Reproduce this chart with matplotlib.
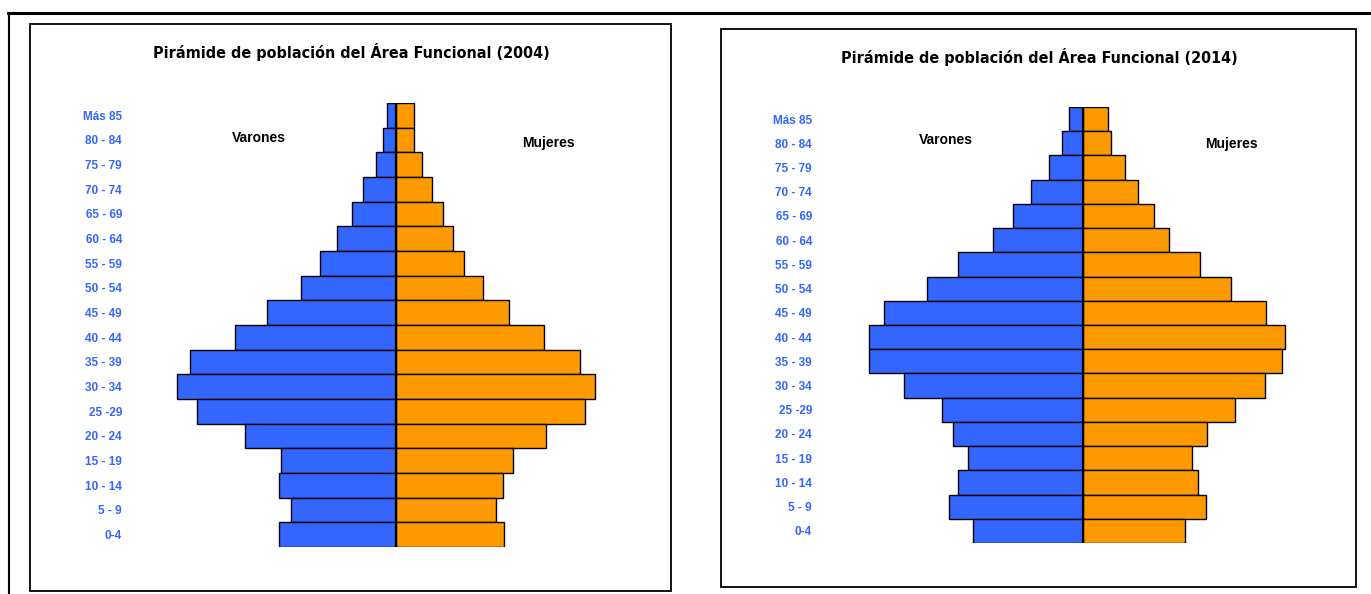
import matplotlib.pyplot as plt
from matplotlib.patches import Rectangle
from matplotlib.lines import Line2D

# age groups, oldest first (top of the pyramid)
age_groups = ['Más 85', '80 - 84', '75 - 79', '70 - 74', '65 - 69', '60 - 64',
              '55 - 59', '50 - 54', '45 - 49', '40 - 44', '35 - 39', '30 - 34',
              '25 -29', '20 - 24', '15 - 19', '10 - 14', '5 - 9', '0-4']

# values (relative units)
varones_2004 = [9, 13, 20, 33, 44, 59, 76, 95, 129, 161, 206, 219, 199, 151, 115, 117, 105, 117]
mujeres_2004 = [18, 18, 26, 36, 47, 57, 68, 87, 113, 148, 184, 199, 189, 150, 117, 107, 100, 108]

varones_2014 = [14, 21, 34, 52, 70, 90, 125, 156, 199, 214, 214, 179, 141, 130, 115, 125, 134, 110]
mujeres_2014 = [25, 28, 42, 55, 71, 86, 117, 148, 183, 202, 199, 182, 152, 124, 109, 115, 123, 102]

BLUE = '#3366FF'
ORANGE = '#FF9900'
W, H = 1371, 594

fig = plt.figure(figsize=(W / 100, H / 100), dpi=100)
fig.patch.set_facecolor('white')


def px_box(x0, y0, x1, y1):
    # pixel box (top-left origin) -> figure fraction [left, bottom, width, height]
    return [x0 / W, 1 - y1 / H, (x1 - x0) / W, (y1 - y0) / H]


def pyramid(axbox, xlim, men, women, title, title_xy, var_xy, muj_xy):
    ax = fig.add_axes(axbox)
    y = list(range(len(age_groups)))
    ax.barh(y, [-m for m in men], height=1.0, color=BLUE, edgecolor='black', linewidth=1.0)
    ax.barh(y, women, height=1.0, color=ORANGE, edgecolor='black', linewidth=1.0)
    ax.axvline(0, color='black', linewidth=1.6)
    ax.set_ylim(len(age_groups) - 0.5, -0.5)
    ax.set_xlim(*xlim)
    ax.set_yticks(y)
    ax.set_yticklabels(age_groups, color=BLUE, fontsize=8.5, fontweight='bold',
                       family=['Liberation Sans', 'DejaVu Sans'])
    ax.tick_params(axis='y', length=0, pad=13)
    ax.set_xticks([])
    for s in ax.spines.values():
        s.set_visible(False)

    fig.text(title_xy[0] / W, 1 - title_xy[1] / H, title, ha='center', va='center',
             fontsize=11.5, fontweight='bold', fontstretch='condensed',
             family=['DejaVu Sans'])
    fig.text(var_xy[0] / W, 1 - var_xy[1] / H, 'Varones', ha='center', va='center',
             fontsize=10, fontweight='bold', family=['Liberation Sans', 'DejaVu Sans'])
    fig.text(muj_xy[0] / W, 1 - muj_xy[1] / H, 'Mujeres', ha='center', va='center',
             fontsize=10, fontweight='bold', family=['Liberation Sans', 'DejaVu Sans'])


# panel frames
for (x0, y0, x1, y1) in [(30, 24, 671, 591), (721, 29, 1356, 587)]:
    fig.add_artist(Rectangle((x0 / W, 1 - y1 / H), (x1 - x0) / W, (y1 - y0) / H,
                             transform=fig.transFigure, fill=False,
                             edgecolor='black', linewidth=1.3))

# outer page lines
fig.add_artist(Line2D([8 / W, 1], [1 - 13 / H, 1 - 13 / H], transform=fig.transFigure,
                      color='black', linewidth=2.2))
fig.add_artist(Line2D([9 / W, 9 / W], [0, 1 - 13 / H], transform=fig.transFigure,
                      color='black', linewidth=1.5))

pyramid(px_box(140, 103, 650, 547), (-256, 254), varones_2004, mujeres_2004,
        'Pirámide de población del Área Funcional (2004)', (351, 52), (259, 138), (548, 143))
pyramid(px_box(830, 107, 1340, 543), (-253, 257), varones_2014, mujeres_2014,
        'Pirámide de población del Área Funcional (2014)', (1039, 57), (946, 140), (1231, 144))

plt.savefig('out.png', dpi=100, facecolor='white')
